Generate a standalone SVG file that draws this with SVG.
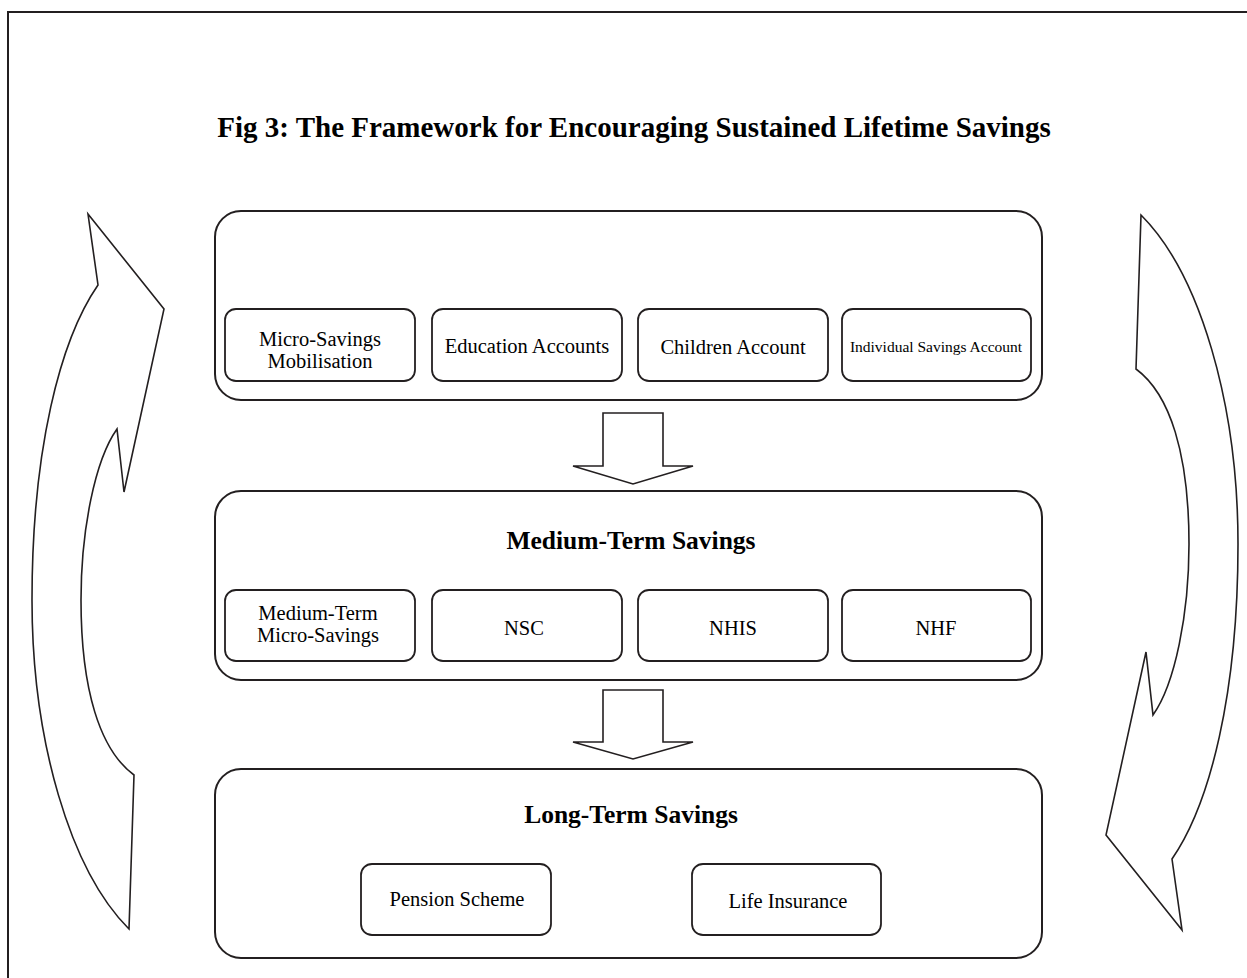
<svg xmlns="http://www.w3.org/2000/svg" width="1247" height="978" viewBox="0 0 1247 978">
<style>
.big{fill:#fff;stroke:#231f20;stroke-width:2}
.sub{fill:#fff;stroke:#231f20;stroke-width:1.8}
.t{font-family:"Liberation Serif","Times New Roman",serif;fill:#000;text-anchor:middle}
.n{font-size:20.5px}
.h{font-size:25.5px;font-weight:bold}
.arr{fill:#fff;stroke:#231f20;stroke-width:1.6;stroke-linejoin:miter}
</style>
<rect width="1247" height="978" fill="#fff"/>
<path d="M1247,12 H8 V978" fill="none" stroke="#231f20" stroke-width="2"/>
<text class="t" x="634" y="137" style="font-size:29px;font-weight:bold">Fig 3: The Framework for Encouraging Sustained Lifetime Savings</text>

<g id="connectors">
<path id="cycle-left" class="arr" d="M88,214 L164,309 L124,492 L117,429 C95,460 81,530 81,600 C81,690 100,750 134,775 L129,929 C70,870 32,740 32,600 C32,450 60,340 98,285 Z"/>
<path id="cycle-right" class="arr" transform="rotate(180 635 572)" d="M88,214 L164,309 L124,492 L117,429 C95,460 81,530 81,600 C81,690 100,750 134,775 L129,929 C70,870 32,740 32,600 C32,450 60,340 98,285 Z"/>
<path id="down1" class="arr" d="M603,413 H663 V466 H693 L633,484 L573,466 H603 Z"/>
<path id="down2" class="arr" d="M603,690 H663 V742 H693 L633,759 L573,742 H603 Z"/>
</g>

<g id="short-term">
<rect class="big" x="215" y="211" width="827" height="189" rx="26"/>
</g>
<g id="micro-savings">
<rect class="sub" x="225" y="309" width="190" height="72" rx="11"/>
<text class="t n" x="320" y="346">Micro-Savings</text>
<text class="t n" x="320" y="368">Mobilisation</text>
</g>
<g id="education">
<rect class="sub" x="432" y="309" width="190" height="72" rx="11"/>
<text class="t n" x="527" y="353">Education Accounts</text>
</g>
<g id="children">
<rect class="sub" x="638" y="309" width="190" height="72" rx="11"/>
<text class="t n" x="733" y="354">Children Account</text>
</g>
<g id="isa">
<rect class="sub" x="842" y="309" width="189" height="72" rx="11"/>
<text class="t" x="936" y="352" style="font-size:15.5px">Individual Savings Account</text>
</g>

<g id="medium-term">
<rect class="big" x="215" y="491" width="827" height="189" rx="26"/>
<text class="t h" x="631" y="549">Medium-Term Savings</text>
</g>
<g id="mt-micro">
<rect class="sub" x="225" y="590" width="190" height="71" rx="11"/>
<text class="t n" x="318" y="620">Medium-Term</text>
<text class="t n" x="318" y="642">Micro-Savings</text>
</g>
<g id="nsc">
<rect class="sub" x="432" y="590" width="190" height="71" rx="11"/>
<text class="t n" x="524" y="635">NSC</text>
</g>
<g id="nhis">
<rect class="sub" x="638" y="590" width="190" height="71" rx="11"/>
<text class="t n" x="733" y="635">NHIS</text>
</g>
<g id="nhf">
<rect class="sub" x="842" y="590" width="189" height="71" rx="11"/>
<text class="t n" x="936" y="635">NHF</text>
</g>

<g id="long-term">
<rect class="big" x="215" y="769" width="827" height="189" rx="26"/>
<text class="t h" x="631" y="823">Long-Term Savings</text>
</g>
<g id="pension">
<rect class="sub" x="361" y="864" width="190" height="71" rx="11"/>
<text class="t n" x="457" y="906">Pension Scheme</text>
</g>
<g id="life">
<rect class="sub" x="692" y="864" width="189" height="71" rx="11"/>
<text class="t n" x="788" y="908">Life Insurance</text>
</g>
</svg>
